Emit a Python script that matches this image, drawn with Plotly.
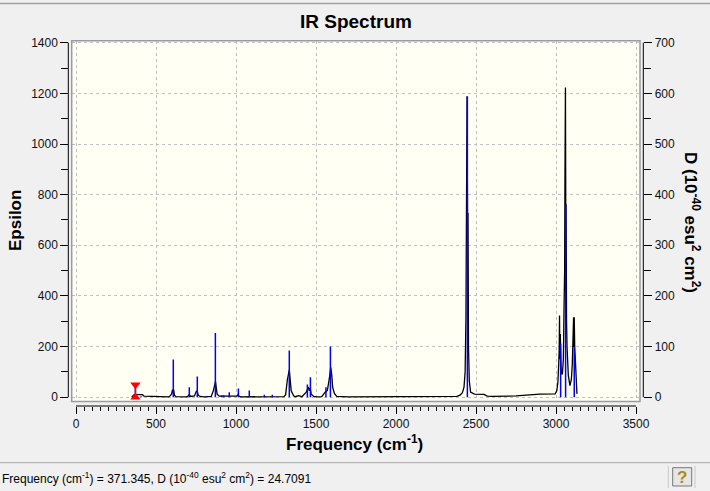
import plotly.graph_objects as go

# broadened spectrum (left axis, Epsilon)
spec_freq = [348, 362, 380, 415, 425, 520, 545, 580, 592, 598, 603, 607, 610, 615, 625,
             690, 700, 708, 716, 740, 752, 758, 764, 775, 800, 845, 858, 866, 872, 876, 882, 895,
             960, 1005, 1012, 1018, 1030, 1300, 1310, 1321, 1333, 1339, 1345, 1360, 1370, 1391,
             1412, 1439, 1453, 1458, 1464, 1470, 1485, 1505, 1536, 1557, 1571, 1583, 1592, 1598,
             1604, 1615, 1629, 1700, 2000, 2380, 2400, 2415, 2425, 2432, 2437, 2441, 2443, 2444,
             2447, 2450, 2453, 2458, 2466, 2490, 2550, 2570, 2600, 2750, 2900, 2995, 3005, 3012,
             3017, 3020, 3022, 3024, 3027, 3029, 3033, 3040, 3046, 3050, 3054, 3056, 3058, 3059,
             3061, 3063, 3066, 3069, 3077, 3087, 3096, 3102, 3107, 3110, 3112, 3114, 3117, 3123,
             3128, 3131]
spec_eps = [1, 9, 10, 10, 4, 3, 1, 1, 8, 14, 30, 18, 30, 8, 2,
            1, 4, 10, 3, 5, 23, 22, 8, 3, 1, 3, 25, 50, 62, 40, 12, 4,
            3, 4, 10, 4, 1.5, 2, 10, 69, 108, 66, 25, 6, 2, 6,
            2, 20, 40, 25, 35, 12, 3, 1, 2, 20, 27, 73, 118, 90,
            40, 15, 3, 1.5, 1.5, 3, 8, 18, 40, 100, 310, 824, 824, 1189,
            725, 725, 198, 66, 20, 12, 11, 4, 3, 5, 12, 13, 25, 60,
            132, 190, 323, 150, 250, 180, 92, 92, 150, 343, 500, 870, 1223, 1223,
            760, 760, 300, 198, 86, 46, 70, 132, 250, 316, 198, 316, 200, 92,
            30, 13]

# stick intensities (right axis, D)
stick_freq = [371.345, 406, 608, 708, 758, 817, 871, 910, 923, 958, 1015, 1083, 1177, 1227,
              1333, 1446, 1465, 1562, 1590, 2446, 3029, 3060, 3114]
stick_d = [24.7091, 2, 74.5, 19.8, 41, 2, 126.6, 4, 4, 10, 17, 13, 5, 5,
           92, 25, 39.5, 19.8, 100, 594, 106, 380, 99]
sel = 0  # selected stick shown in the status bar

x_ticks = [0, 500, 1000, 1500, 2000, 2500, 3000, 3500]
eps_ticks = [0, 200, 400, 600, 800, 1000, 1200, 1400]
d_ticks = [0, 100, 200, 300, 400, 500, 600, 700]

W, H = 710, 491
# plot frame in pixels
fl, fr, ft, fb = 71.7, 640, 40.7, 401.5
xdom = [fl / W, fr / W]
ydom = [1 - fb / H, 1 - ft / H]
font = 'Liberation Sans, Arial, sans-serif'

sx, sy = [], []
for f, d in zip(stick_freq, stick_d):
    sx += [f, f, None]
    sy += [0, d, None]

fig = go.Figure()
fig.add_trace(go.Scatter(x=sx, y=sy, mode='lines',
                         line=dict(color='#0000ff', width=1.5), yaxis='y2'))
fig.add_trace(go.Scatter(x=spec_freq, y=spec_eps, mode='lines',
                         line=dict(color='black', width=1.3), yaxis='y'))
fig.add_trace(go.Scatter(x=[stick_freq[sel], stick_freq[sel]], y=[0, stick_d[sel]],
                         mode='lines+markers', yaxis='y2',
                         line=dict(color='#ff0000', width=1.5),
                         marker=dict(symbol=['triangle-up', 'triangle-down'], size=9,
                                     color='#ff0000')))

tickfont = dict(family=font, size=12, color='#111111')
fig.update_layout(
    width=W, height=H,
    margin=dict(l=0, r=0, t=0, b=0, autoexpand=False),
    paper_bgcolor='#f0f0f0',
    plot_bgcolor='#fffff4',
    showlegend=False,
    xaxis=dict(domain=xdom, range=[-27, 3525], anchor='free', position=1 - 406 / H,
               tickvals=x_ticks, ticks='outside', ticklen=7, tickcolor='black',
               tickfont=tickfont, showline=False, zeroline=False,
               showgrid=True, gridcolor='#c0c0c0', griddash='3px,3px', gridwidth=1,
               minor=dict(dtick=50, tick0=0, ticks='outside', ticklen=4,
                          tickcolor='black', showgrid=False),
               automargin=False),
    yaxis=dict(domain=ydom, range=[-17, 1408], anchor='free', position=68.3 / W,
               side='left', tickvals=eps_ticks, ticks='outside', ticklen=8,
               tickcolor='black', tickfont=tickfont, showline=False, zeroline=False,
               showgrid=True, gridcolor='#c0c0c0', griddash='3px,3px', gridwidth=1,
               minor=dict(dtick=100, tick0=0, ticks='outside', ticklen=7,
                          tickcolor='black', showgrid=False),
               automargin=False),
    yaxis2=dict(domain=ydom, range=[-8.5, 704], overlaying='y', anchor='free',
                position=643.3 / W, side='right', tickvals=d_ticks, ticks='outside',
                ticklen=8, tickcolor='black', tickfont=tickfont, showline=False,
                zeroline=False, showgrid=False,
                minor=dict(dtick=50, tick0=0, ticks='outside', ticklen=7,
                           tickcolor='black', showgrid=False),
                automargin=False),
)

# plot frame
fig.add_shape(type='rect', xref='paper', yref='paper',
              x0=xdom[0], x1=xdom[1], y0=ydom[0], y1=ydom[1],
              line=dict(color='#9a9aa2', width=1.5))
# detached axis lines
fig.add_shape(type='line', xref='x', yref='paper', x0=x_ticks[0], x1=x_ticks[-1],
              y0=1 - 406 / H, y1=1 - 406 / H, line=dict(color='black', width=1))
fig.add_shape(type='line', xref='paper', yref='y', x0=68.3 / W, x1=68.3 / W,
              y0=eps_ticks[0], y1=eps_ticks[-1], line=dict(color='black', width=1))
fig.add_shape(type='line', xref='paper', yref='y2', x0=643.3 / W, x1=643.3 / W,
              y0=d_ticks[0], y1=d_ticks[-1], line=dict(color='black', width=1))

# window lines, status bar, help button
fig.add_shape(type='line', xref='paper', yref='paper', x0=0, x1=1,
              y0=1 - 3.5 / H, y1=1 - 3.5 / H, line=dict(color='#a0a0a0', width=1.5))
fig.add_shape(type='line', xref='paper', yref='paper', x0=0, x1=1,
              y0=1 - 462.7 / H, y1=1 - 462.7 / H, line=dict(color='#a8a8a8', width=1))
for px in [668.3, 695]:
    fig.add_shape(type='line', xref='paper', yref='paper', x0=px / W, x1=px / W,
                  y0=1 - 488 / H, y1=1 - 466 / H, line=dict(color='#c8c8c8', width=1))
fig.add_shape(type='rect', xref='paper', yref='paper', x0=672.7 / W, x1=691.7 / W,
              y0=1 - 486 / H, y1=1 - 467.7 / H, fillcolor='#e6e6e6',
              line=dict(color='#777777', width=1))
fig.add_annotation(x=682.2 / W, y=1 - 477 / H, xref='paper', yref='paper',
                   xanchor='center', yanchor='middle',
                   text='<b>?</b>', showarrow=False,
                   font=dict(family=font, size=17, color='#a88a2c'))

# titles
fig.add_annotation(x=355.5 / W, y=1 - 21 / H, xref='paper', yref='paper',
                   xanchor='center', yanchor='middle',
                   text='<b>IR Spectrum</b>', showarrow=False,
                   font=dict(family=font, size=19, color='black'))
fig.add_annotation(x=354 / W, y=1 - 443 / H, xref='paper', yref='paper',
                   xanchor='center', yanchor='middle',
                   text='<b>Frequency (cm<sup>-1</sup>)</b>', showarrow=False,
                   font=dict(family=font, size=17, color='black'))
fig.add_annotation(x=16 / W, y=1 - 221 / H, xref='paper', yref='paper',
                   xanchor='center', yanchor='middle',
                   text='<b>Epsilon</b>', showarrow=False, textangle=-90,
                   font=dict(family=font, size=17, color='black'))
fig.add_annotation(x=692 / W, y=1 - 222 / H, xref='paper', yref='paper',
                   xanchor='center', yanchor='middle',
                   text='<b>D (10<sup>-40</sup> esu<sup>2</sup> cm<sup>2</sup>)</b>',
                   showarrow=False, textangle=90,
                   font=dict(family=font, size=17, color='black'))

status = ('Frequency (cm<sup>-1</sup>) = %s, D (10<sup>-40</sup> esu<sup>2</sup> '
          'cm<sup>2</sup>) = %s' % (stick_freq[sel], stick_d[sel]))
fig.add_annotation(x=0, y=1 - 478 / H, xref='paper', yref='paper',
                   xanchor='left', yanchor='middle',
                   text=status, showarrow=False,
                   font=dict(family=font, size=12, color='black'))

# the page body has a default 8px margin; drop it so the figure fills the window
fig.write_html("out.html", config={'displayModeBar': False},
               post_script="document.body.style.margin='0';")
